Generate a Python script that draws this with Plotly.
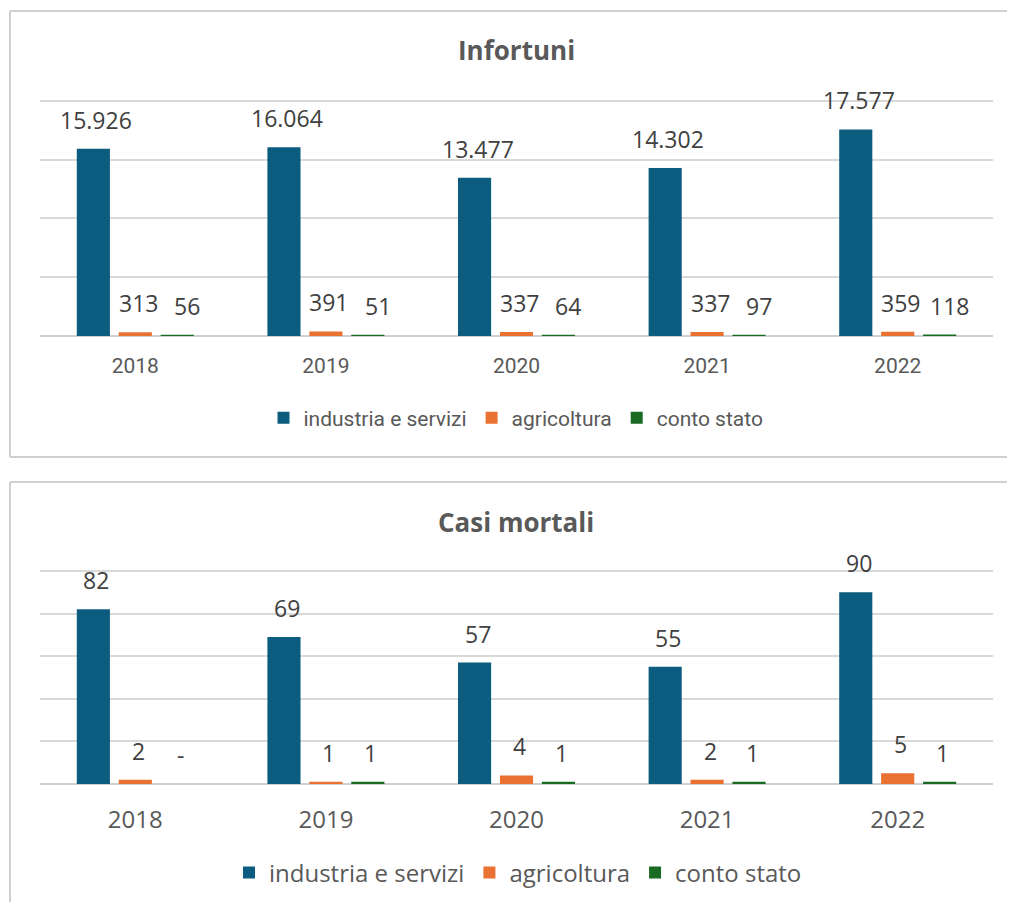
import plotly.graph_objects as go
from plotly.subplots import make_subplots

# data
years = ["2018", "2019", "2020", "2021", "2022"]
series_names = ["industria e servizi", "agricoltura", "conto stato"]

infortuni_industria = [15926, 16064, 13477, 14302, 17577]
infortuni_agricoltura = [313, 391, 337, 337, 359]
infortuni_stato = [56, 51, 64, 97, 118]

mortali_industria = [82, 69, 57, 55, 90]
mortali_agricoltura = [2, 1, 4, 2, 5]
mortali_stato = [0, 1, 1, 1, 1]

colors = ["#0B5C7E", "#E97132", "#196B24"]

# the page puts the plot 8px in from each side; keep it inside the window
PAGE_OFF = 8
W, H = 1015 - 2 * PAGE_OFF, 910 - 2 * PAGE_OFF
PLOT_L, PLOT_R = 40, 993
BARGAP, GROUPGAP = 0.34, 0.21


def px_x(px):
    return (px - PAGE_OFF) / W


def px_y(px):
    return 1 - (px - PAGE_OFF) / H


def label(v):
    if v == 0:
        return "-"
    return f"{v:,}".replace(",", ".")


fig = make_subplots(rows=2, cols=1)

# (title, series, legend, extra label nudge per series in px)
panels = [
    ("Infortuni", [infortuni_industria, infortuni_agricoltura, infortuni_stato],
     "legend", [3, 3, 10]),
    ("Casi mortali", [mortali_industria, mortali_agricoltura, mortali_stato],
     "legend2", [3, 3, 3]),
]

# width of one bar slot in pixels, used to put labels over their bar
cat_w = (PLOT_R - PLOT_L) / len(years)
slot = cat_w * (1 - BARGAP) / len(series_names)

for r, (title, series, leg, nudge) in enumerate(panels, start=1):
    for k, (name, vals) in enumerate(zip(series_names, series)):
        fig.add_trace(
            go.Bar(
                x=years,
                y=vals,
                name=name,
                marker=dict(color=colors[k], line=dict(width=0)),
                legend=leg,
                hoverinfo="skip",
            ),
            row=r, col=1
        )
        for i, v in enumerate(vals):
            # x as category index, so "2018" is not read as a number
            fig.add_annotation(
                x=i, y=v,
                xref="x" if r == 1 else "x2",
                yref="y" if r == 1 else "y2",
                text=label(v),
                showarrow=False,
                yanchor="bottom",
                yshift=11,
                xshift=(k - 1) * slot + nudge[k],
                font=dict(family="Open Sans", size=23, color="#404040"),
            )

# panel titles
fig.add_annotation(
    x=px_x(516), y=px_y(50), xref="paper", yref="paper", text="<b>Infortuni</b>",
    showarrow=False, xanchor="center", yanchor="middle",
    font=dict(family="Open Sans", size=26, color="#595959")
)
fig.add_annotation(
    x=px_x(516), y=px_y(522), xref="paper", yref="paper", text="<b>Casi mortali</b>",
    showarrow=False, xanchor="center", yanchor="middle",
    font=dict(family="Open Sans", size=26, color="#595959")
)

# panel frames: the right side runs off the picture, so only three edges
frame = dict(type="line", xref="paper", yref="paper",
             line=dict(color="#D0D0D0", width=2), layer="below")
x_left = px_x(10)
for top, bottom in [(px_y(11), px_y(457)), (px_y(482), -0.1)]:
    fig.add_shape(x0=x_left, x1=1.5, y0=top, y1=top, **frame)
    fig.add_shape(x0=x_left, x1=x_left, y0=bottom, y1=top, **frame)
    fig.add_shape(x0=x_left, x1=1.5, y0=bottom, y1=bottom, **frame)

grid = dict(showgrid=True, gridcolor="#D9D9D9", gridwidth=2,
            zeroline=True, zerolinecolor="#D0D0D0", zerolinewidth=2,
            showticklabels=False, showline=False, fixedrange=True,
            automargin=False)
xax = dict(type="category", domain=[px_x(PLOT_L), px_x(PLOT_R)],
           range=[-0.5, len(years) - 0.5], showgrid=False, showline=False,
           ticks="", automargin=False, fixedrange=True)

# a little headroom above the top tick so its gridline is drawn
fig.update_layout(
    width=W, height=H,
    margin=dict(l=0, r=0, t=0, b=0, autoexpand=False),
    paper_bgcolor="white", plot_bgcolor="white",
    barmode="group", bargap=BARGAP, bargroupgap=GROUPGAP,
    xaxis=dict(**xax, ticklabelstandoff=15,
               tickfont=dict(family="Roboto", size=21, color="#595959")),
    xaxis2=dict(**xax, ticklabelstandoff=19,
                tickfont=dict(family="Open Sans", size=24, color="#595959")),
    yaxis=dict(domain=[px_y(336), px_y(99.8)], range=[0, 20100], dtick=5000, **grid),
    yaxis2=dict(domain=[px_y(784), px_y(569.9)], range=[0, 100.5], dtick=20, **grid),
    legend=dict(orientation="h", x=px_x(516), xanchor="center", y=px_y(418),
                yanchor="middle", font=dict(family="Roboto", size=21, color="#595959"),
                bgcolor="rgba(0,0,0,0)", traceorder="normal"),
    legend2=dict(orientation="h", x=px_x(518), xanchor="center", y=px_y(873),
                 yanchor="middle", font=dict(family="Open Sans", size=24, color="#595959"),
                 bgcolor="rgba(0,0,0,0)", traceorder="normal"),
)

fig.write_html("out.html")
